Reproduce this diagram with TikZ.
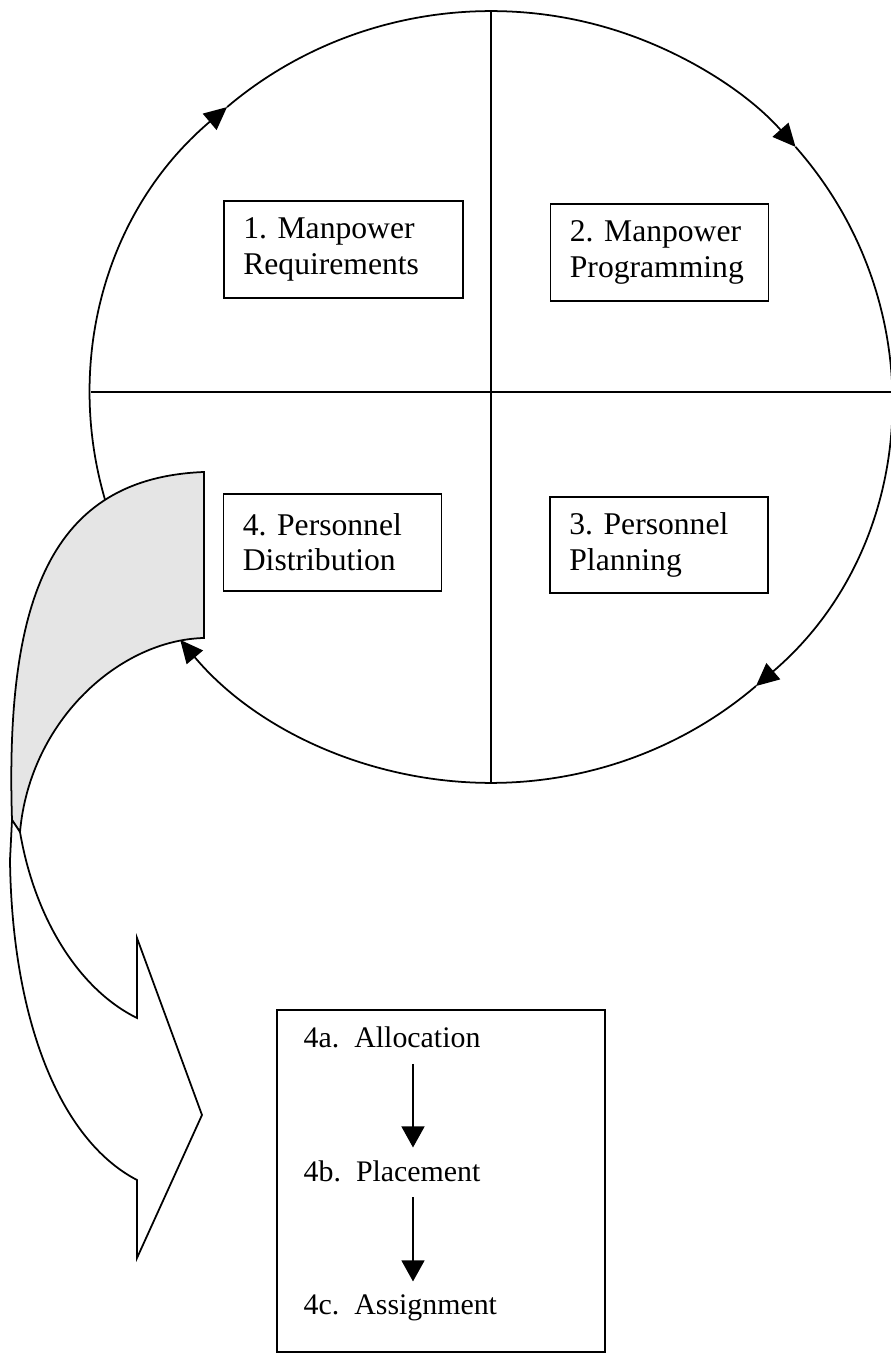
\documentclass[tikz,border=0pt]{standalone}
\usepackage{fontspec}
\setmainfont{Liberation Serif}
\usetikzlibrary{arrows.meta}
\frenchspacing

\begin{document}
\begin{tikzpicture}[x=0.02cm, y=0.02cm, line width=1pt,
    stage/.style={draw, align=left, inner xsep=11pt, minimum height=55pt, font=\fontsize{18}{20}\selectfont},
    steplabel/.style={anchor=base west, font=\fontsize{17}{20}\selectfont},
    cyclearrow/.style={-{Triangle[length=13pt,width=12pt]}},
    steparrow/.style={-{Triangle[length=12pt,width=13pt]}, line width=1.2pt}]
    \useasboundingbox (0,0) rectangle (891,1353);

    % Define coordinates
    \coordinate (O) at (491,956);
    \coordinate (arrowx) at (413,0);

    % Cycle, clockwise, with arrows
    \foreach \a/\b in {270/219, 219/131.3, 131.3/40.4, 40.4/-48.5}
        \draw[cyclearrow] (O) ++(\a:8cm and 7.72cm) arc[start angle=\a, end angle=\b, x radius=8cm, y radius=7.72cm];
    \draw (O) ++(-48.5:8cm and 7.72cm) arc[start angle=-48.5, end angle=-90, x radius=8cm, y radius=7.72cm];

    % Quadrant lines
    \draw (O) ++(0,386) -- ++(0,-772);
    \draw (91,961) -- (891,961);

    % Stage boxes
    \node[stage, text width=114pt] (req) at (343.5,1103.5) {1. Manpower\\Requirements};
    \node[stage, text width=102pt] (prog) at (659.5,1100.5) {2. Manpower\\Programming};
    \node[stage, text width=102pt] (plan) at (659,808) {3. Personnel\\Planning};
    \node[stage, text width=102pt] (dist) at (332.5,810.5) {4. Personnel\\Distribution};

    % Shaded back of the ribbon
    \draw[fill=black!10] (204,881) -- (204,715) .. controls (120,713) and (30,633) .. (20,521)
        -- (12,533) .. controls (5,753) and (50,875) .. (204,881) -- cycle;

    % Front of the ribbon with arrowhead
    \draw[fill=white] (20,521) .. controls (35,433) and (80,363) .. (137,335) -- (137,415) -- (202,238)
        -- (137,95) -- (137,173) .. controls (60,213) and (12,333) .. (10,493) -- (12,533) -- cycle;

    % Detail box
    \draw (277,1) rectangle (605,343);
    \node[steplabel] (alloc) at (297,305) {4a.\ \ Allocation};
    \node[steplabel] (place) at (297,171) {4b.\ \ Placement};
    \node[steplabel] (assign) at (297,38) {4c.\ \ Assignment};
    \draw[steparrow, shorten <=5pt, shorten >=4pt] (alloc.south -| arrowx) -- (place.north -| arrowx);
    \draw[steparrow, shorten <=4.5pt, shorten >=4pt] (place.south -| arrowx) -- (assign.north -| arrowx);
\end{tikzpicture}
\end{document}
